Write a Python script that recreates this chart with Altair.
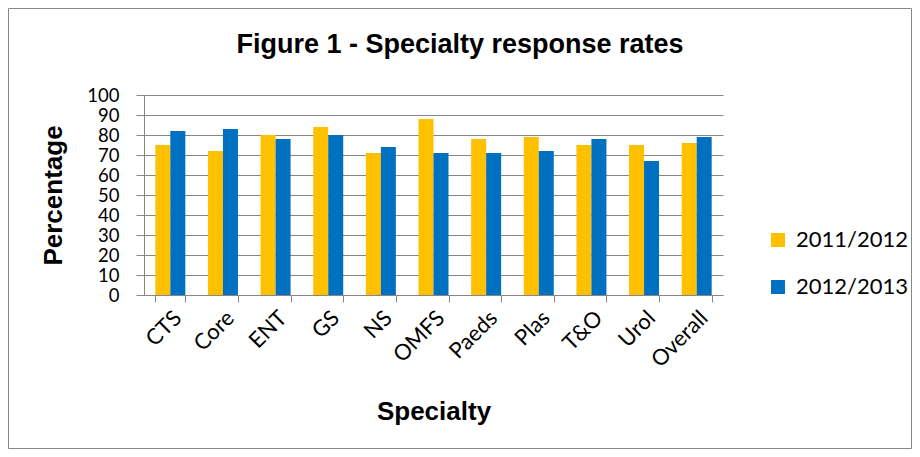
import altair as alt
import pandas as pd

specialties = ["CTS", "Core", "ENT", "GS", "NS", "OMFS", "Paeds", "Plas", "T&O", "Urol", "Overall"]
rates_2011_2012 = [75, 72, 80, 84, 71, 88, 78, 79, 75, 75, 76]
rates_2012_2013 = [82, 83, 78, 80, 74, 71, 71, 72, 78, 67, 79]
series = ["2011/2012", "2012/2013"]
colors = ["#FFC000", "#0070C0"]
chart_title = "Figure 1 - Specialty response rates"

rows = []
for s, a, b in zip(specialties, rates_2011_2012, rates_2012_2013):
    rows.append({"Specialty": s, "Year": series[0], "Percentage": a})
    rows.append({"Specialty": s, "Year": series[1], "Percentage": b})
df = pd.DataFrame(rows)

FONT = "Lato"
W, H = 579, 200

bars = alt.Chart(df).mark_bar().encode(
    x=alt.X("Specialty:N", sort=specialties,
            scale=alt.Scale(paddingInner=0.43, paddingOuter=0.215),
            axis=alt.Axis(title="Specialty", labelAngle=-45, labelFontSize=22, labelFont=FONT,
                          labelColor="#000", tickBand="extent", tickSize=7, tickColor="#868686",
                          domainColor="#868686", grid=False, labelPadding=5, labelOverlap=False,
                          titleFont="Liberation Sans", titleFontSize=26, titleFontWeight="bold",
                          titleY=116, titleBaseline="middle", titleColor="#000")),
    xOffset=alt.XOffset("Year:N", sort=series),
    y=alt.Y("Percentage:Q", scale=alt.Scale(domain=[0, 100]),
            axis=alt.Axis(title="Percentage", values=list(range(0, 101, 10)), labelFontSize=18.5,
                          labelFont=FONT, labelColor="#000", tickSize=8, tickColor="#868686",
                          domainColor="#868686", gridColor="#868686", labelPadding=17,
                          labelOverlap=False,
                          titleFont="Liberation Sans", titleFontSize=26, titleFontWeight="bold",
                          titleX=-91, titleY=100, titleAngle=-90, titleBaseline="middle",
                          titleAlign="center", titleColor="#000")),
    color=alt.Color("Year:N", scale=alt.Scale(domain=series, range=colors),
                    legend=alt.Legend(title=None, orient="none", legendX=623, legendY=134,
                                      padding=0, symbolType="square", symbolSize=196,
                                      symbolStrokeWidth=0, labelFontSize=22, labelFont=FONT,
                                      labelColor="#000", rowPadding=25, labelOffset=7)),
)

border = alt.Chart(pd.DataFrame({"a": [0]})).mark_rect(
    fill=None, stroke="#888888", strokeWidth=1
).encode(x=alt.value(-135.5), x2=alt.value(767.5), y=alt.value(-86.5), y2=alt.value(353.5))

title = alt.Chart(pd.DataFrame({"t": [chart_title]})).mark_text(
    font="Liberation Sans", fontSize=27, fontWeight="bold", color="#000",
    align="center", baseline="alphabetic"
).encode(x=alt.value(316), y=alt.value(-42), text="t:N")

chart = alt.layer(border, title, bars).properties(
    width=W, height=H,
    autosize=alt.AutoSizeParams(type="none"),
    padding={"left": 136, "top": 87, "right": 189, "bottom": 154},
).configure_view(stroke=None).configure_axis(gridWidth=1)

chart.save("out.html", embed_options={"renderer": "svg", "actions": False})
